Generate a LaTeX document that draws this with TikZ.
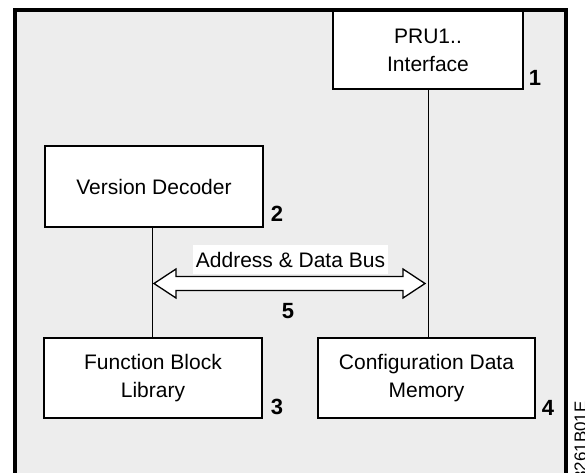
\documentclass[tikz,border=0pt]{standalone}
\usepackage{fontspec}
\setmainfont{Liberation Sans}
\usetikzlibrary{calc}
\begin{document}
\begin{tikzpicture}[x=1pt,y=-1pt,
  box/.style={draw=black,line width=2.4pt,fill=white,inner sep=0pt,align=center,
    font=\fontsize{21}{28}\selectfont},
  num/.style={inner sep=0pt,font=\fontsize{22}{26}\selectfont\bfseries},
  conn/.style={draw=black,line width=1pt}]
\useasboundingbox (0,0) rectangle (585,472);
\fill[white] (0,0) rectangle (585,472);
\begin{scope}
\clip (0,0) rectangle (585,472);
\draw[line width=4.5pt,fill=black!7] (15,10) rectangle (566,520);
\node[inner sep=0pt,rotate=90,anchor=east,font=\fontsize{17}{20}\selectfont] (fig) at (580.5,401) {3261B01E};
\end{scope}
% boxes
\node[box,minimum width=190pt,minimum height=78pt] (pru) at (428,50) {PRU1..\\Interface};
\node[box,minimum width=218pt,minimum height=81pt] (dec) at (154,186.5) {Version Decoder};
\node[box,minimum width=218pt,minimum height=80pt] (fbl) at (153,378) {Function Block\\Library};
\node[box,minimum width=217pt,minimum height=80pt] (cfg) at (426.5,378) {Configuration Data\\Memory};
% connectors
\coordinate (decB) at (152,226.5);
\coordinate (pruB) at (428,89);
\draw[conn] (decB) -- (decB |- fbl.north);
\draw[conn] (pruB) -- (pruB |- cfg.north);
% bus arrow
\coordinate (busL) at (154,283.5);
\coordinate (busR) at (425,283.5);
\draw[line width=1.3pt,fill=white,line join=miter]
  (busL) -- ++(22,-14.5) -- ++(0,7.5) -- ($(busR)+(-22,-7)$) -- ++(0,-7.5) -- (busR)
  -- ++(-22,14.5) -- ++(0,-7.5) -- ($(busL)+(22,7)$) -- ++(0,7.5) -- cycle;
\node[fill=white,inner sep=0pt,minimum width=195pt,minimum height=29pt,
  font=\fontsize{21}{25}\selectfont] (buslbl) at (290.5,259.5) {Address \& Data Bus};
% numbers
\node[num] (n1) at (535,78) {1};
\node[num] (n2) at (277,214) {2};
\node[num] (n3) at (277,407) {3};
\node[num] (n4) at (548,408) {4};
\node[num] (n5) at (288,311) {5};
\end{tikzpicture}
\end{document}
